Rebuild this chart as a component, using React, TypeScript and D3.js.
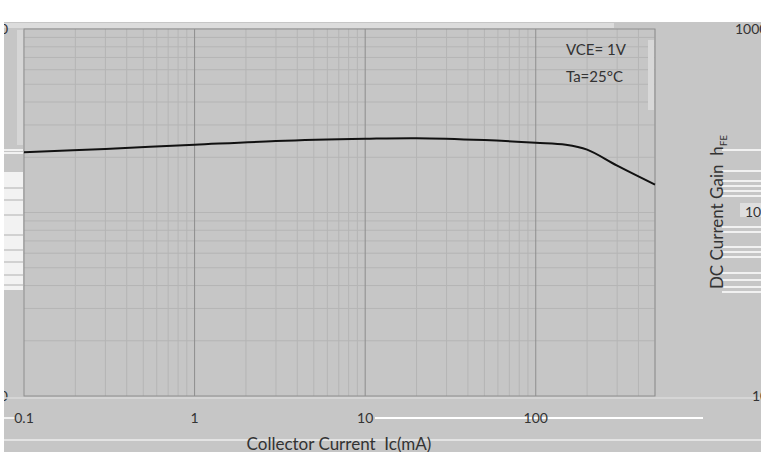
import React from "react";
import * as d3 from "d3";

const currentMA = [0.1, 0.3, 1, 3, 10, 20, 50, 100, 150, 200, 300, 500];
const gainHFE = [213, 222, 234, 245, 252, 254, 248, 240, 234, 220, 180, 142];
const xTicks = [0.1, 1, 10, 100];
const xTickLabels = ["0.1", "1", "10", "100"];
const yTicks = [1000, 100, 10];
const yTickLabels = ["1000", "100", "10"];
const conditions = ["VCE= 1V", "Ta=25°C"];

const W = 769;
const H = 452;
const FONT = "Lato, 'Open Sans', sans-serif";

export default function App() {
  const x = d3.scaleLog().domain([0.1, 500]).range([24, 655]);
  const y = d3.scaleLog().domain([10, 1000]).range([396, 29]);

  const vMinor: number[] = [];
  for (let d = -1; d <= 2; d++) {
    for (let k = 1; k <= 9; k++) {
      const v = k * Math.pow(10, d);
      if (v <= 500 && v > 0.1) vMinor.push(v);
    }
  }
  const hMinor: number[] = [];
  for (let d = 1; d <= 2; d++) {
    for (let k = 1; k <= 9; k++) {
      const v = k * Math.pow(10, d);
      if (v > 10 && v < 1000) hMinor.push(v);
    }
  }
  const isMajor = (v: number) => Math.abs(Math.log10(v) - Math.round(Math.log10(v))) < 1e-9;

  const line = d3
    .line<number>()
    .x((_, i) => x(currentMA[i]))
    .y((d) => y(d))
    .curve(d3.curveCatmullRom.alpha(0.5));

  const rightStripes = [150, 171, 181, 186, 191, 196, 227, 232, 247, 252, 257, 273, 280, 287, 292];
  const leftStripes = [150, 153, 188, 200, 215, 235, 250, 262, 275, 285];

  return (
    <svg
      width={W}
      height={H}
      style={{ position: "absolute", left: 0, top: 0, display: "block" }}
    >
      <rect x={0} y={0} width={W} height={H} fill="#ffffff" />
      <rect x={4} y={22} width={757} height={H - 22} fill="#c6c6c6" />
      <rect x={4} y={23} width={610} height={5} fill="#dcdcdc" />

      {yTicks.map((t, i) => (
        <text
          key={"yl" + t}
          x={8}
          y={y(t)}
          dy="0.35em"
          textAnchor="end"
          fontFamily={FONT}
          fontSize={14}
          fill="#333"
        >
          {yTickLabels[i]}
        </text>
      ))}

      <rect x={4} y={172} width={19} height={118} fill="#f2f2f2" />
      {leftStripes.map((s) => (
        <line key={"ls" + s} x1={4} x2={23} y1={s} y2={s} stroke={s < 160 ? "#ffffff" : "#c6c6c6"} strokeWidth={1.5} />
      ))}
      <rect x={17} y={30} width={6} height={115} fill="#d6d6d6" />
      <rect x={0} y={0} width={4} height={H} fill="#ffffff" />

      {hMinor.map((v) => (
        <line key={"h" + v} x1={24} x2={655} y1={y(v)} y2={y(v)} stroke="#b5b5b5" strokeWidth={1} />
      ))}
      {vMinor.filter((v) => !isMajor(v)).map((v) => (
        <line key={"v" + v} x1={x(v)} x2={x(v)} y1={29} y2={396} stroke="#b5b5b5" strokeWidth={1} />
      ))}
      {vMinor.filter((v) => isMajor(v)).map((v) => (
        <line key={"V" + v} x1={x(v)} x2={x(v)} y1={29} y2={396} stroke="#8e8e8e" strokeWidth={1} />
      ))}
      <rect x={24} y={29} width={631} height={367} fill="none" stroke="#8e8e8e" strokeWidth={1} />

      <rect x={648} y={40} width={6} height={70} fill="#d8d8d8" />
      {conditions.map((c, i) => (
        <text
          key={c}
          x={566}
          y={55 + i * 27}
          fontFamily={FONT}
          fontSize={15}
          fill="#333"
        >
          {c}
        </text>
      ))}

      <path d={line(gainHFE) || ""} fill="none" stroke="#111" strokeWidth={2} />

      <line x1={4} x2={W} y1={398} y2={398} stroke="#dadada" strokeWidth={1.5} />
      <line x1={4} x2={761} y1={440} y2={440} stroke="#ececec" strokeWidth={1.5} />
      <line x1={375} x2={703} y1={418} y2={418} stroke="#ffffff" strokeWidth={2} />
      <line x1={4} x2={15} y1={418} y2={418} stroke="#ffffff" strokeWidth={1.5} />

      {xTicks.map((t, i) => (
        <text
          key={"xt" + t}
          x={x(t)}
          y={418}
          dy="0.35em"
          textAnchor="middle"
          fontFamily={FONT}
          fontSize={14}
          fill="#333"
        >
          {xTickLabels[i]}
        </text>
      ))}

      <text x={339} y={450} textAnchor="middle" fontFamily={FONT} fontSize={17} fill="#333">
        Collector Current{"\u00a0\u00a0"}Ic(mA)
      </text>

      {rightStripes.map((s) => (
        <line key={"rs" + s} x1={722} x2={761} y1={s} y2={s} stroke="#ffffff" strokeWidth={1.5} />
      ))}
      <rect x={740} y={203} width={21} height={14} fill="#dedede" />

      {yTicks.map((t, i) => (
        <text
          key={"yr" + t}
          x={[735, 745, 752][i]}
          y={y(t)}
          dy="0.35em"
          fontFamily={FONT}
          fontSize={14}
          fill="#333"
        >
          {yTickLabels[i]}
        </text>
      ))}

      <text
        transform="translate(723,212) rotate(-90)"
        textAnchor="middle"
        fontFamily={FONT}
        fontSize={17}
        fill="#333"
      >
        DC Current Gain{"\u00a0\u00a0"}h
        <tspan fontSize={10} dy={4}>FE</tspan>
      </text>

      <rect x={761} y={0} width={8} height={H} fill="#ffffff" />
    </svg>
  );
}
